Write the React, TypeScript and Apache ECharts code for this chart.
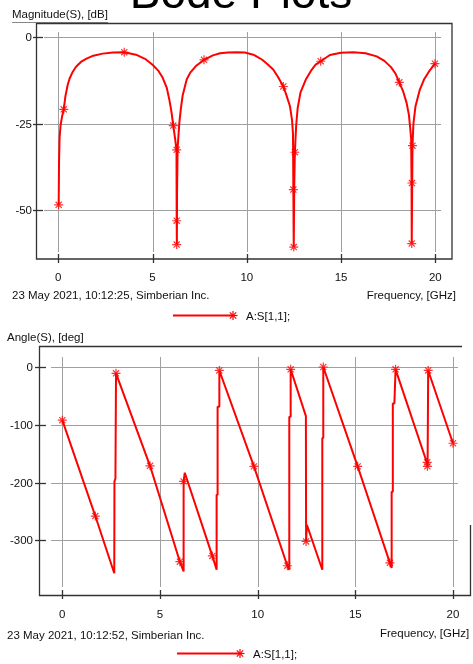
import React, { useEffect, useRef } from "react";
import * as echarts from "echarts";

const TITLE = "Bode Plots";
const MAG_LABEL = "Magnitude(S), [dB]";
const PHASE_LABEL = "Angle(S), [deg]";
const MAG_STAMP = "23 May 2021, 10:12:25, Simberian Inc.";
const PHASE_STAMP = "23 May 2021, 10:12:52, Simberian Inc.";
const X_LABEL = "Frequency, [GHz]";
const SERIES_NAME = "A:S[1,1];";

const FREQ_TICKS = [0, 5, 10, 15, 20];
const MAG_TICKS = [0, -25, -50];
const PHASE_TICKS = [0, -100, -200, -300];

// Magnitude curve (GHz, dB)
const magFreq = [
  0.02, 0.04, 0.07, 0.12, 0.2, 0.29, 0.38, 0.5, 0.6, 0.75, 0.94, 1.2, 1.47, 1.8, 2.35, 2.9, 3.5, 4.12, 4.6, 5.0,
  5.3, 5.54, 5.75, 5.89, 6.0, 6.1, 6.2, 6.27, 6.28, 6.29, 6.3, 6.33, 6.42, 6.5, 6.6, 6.81, 7.0, 7.3, 7.73, 8.2,
  8.58, 9.0, 9.46, 9.9, 10.35, 10.8, 11.1, 11.4, 11.65, 11.94, 12.1, 12.29, 12.4, 12.45, 12.47, 12.49, 12.52, 12.55, 12.62, 12.7,
  12.85, 13.13, 13.4, 13.65, 13.92, 14.41, 15.0, 15.65, 16.3, 16.89, 17.3, 17.65, 17.9, 18.09, 18.3, 18.48, 18.6, 18.66, 18.72, 18.74,
  18.75, 18.77, 18.79, 18.84, 18.95, 19.18, 19.4, 19.7, 19.98,
];
const magDb = [
  -48.5, -36, -29, -25.5, -23, -20.9, -17, -13.8, -12, -10.2, -8.6, -7.2, -6.3, -5.5, -4.8, -4.45, -4.4, -5.1, -6.3, -8.0,
  -9.7, -11.8, -14.6, -18.1, -21.5, -25.6, -29.5, -32.6, -53.1, -60.0, -45, -32, -24.9, -20.8, -16.8, -12.3, -10.3, -8.4, -6.6, -5.3,
  -4.7, -4.45, -4.4, -4.5, -5.1, -6.5, -7.9, -9.4, -11.5, -14.3, -16.8, -20, -24, -28, -44.1, -60.7, -42, -33.3, -25.5, -20.5,
  -16, -12.3, -9.8, -8.0, -7.0, -5.2, -4.55, -4.4, -4.7, -5.6, -6.9, -8.7, -10.7, -13.1, -15.8, -19.1, -22.5, -25.8, -29.5, -42.2,
  -59.7, -45, -31.4, -25, -20, -15.2, -12.3, -9.7, -7.7,
];
const magMarkFreq = [0.02, 0.29, 3.5, 6.1, 6.28, 6.28, 6.28, 7.73, 11.94, 12.55, 12.47, 12.49, 13.92, 18.09, 18.79, 18.76, 18.75, 19.98];
const magMarkDb = [-48.5, -20.9, -4.4, -25.6, -32.6, -53.1, -60.0, -6.6, -14.3, -33.3, -44.1, -60.7, -7.0, -13.1, -31.4, -42.2, -59.7, -7.7];

// Phase curve (GHz, deg)
const phaseFreq = [
  0, 1.69, 2.66, 2.67, 2.72, 2.75, 4.49, 6.02, 6.21, 6.21, 6.27, 7.68, 7.9, 7.9, 7.95, 7.95, 8.04, 8.04, 9.81, 11.52,
  11.62, 11.62, 11.69, 11.69, 12.47, 12.48, 12.52, 13.31, 13.31, 13.36, 13.36, 15.12, 16.77, 16.86, 16.86, 16.92, 16.92, 17.0, 17.06, 18.68,
  18.7, 18.73, 20.0,
];
const phaseDeg = [
  -92, -258, -357, -198, -193, -11, -171, -337, -354, -198, -183, -327, -351, -221, -221, -69, -69, -6, -172, -344,
  -351, -86, -86, -4, -85, -302, -273, -351, -123, -123, 0, -172, -339, -348, -216, -216, -63, -63, -4, -167,
  -172, -6, -132,
];
const phaseMarkFreq = [0, 1.69, 2.75, 4.49, 6.02, 6.21, 7.68, 8.04, 9.81, 11.52, 11.69, 12.48, 13.36, 15.12, 16.77, 17.06, 18.68, 18.69, 18.73, 20.0];
const phaseMarkDeg = [-92, -258, -11, -171, -337, -198, -327, -6, -172, -344, -4, -302, 0, -172, -339, -4, -165, -172, -6, -132];

const zip = (a: number[], b: number[]) => a.map((v, i) => [v, b[i]]);

export default function App() {
  const ref = useRef<HTMLDivElement>(null);
  useEffect(() => {
    const chart = echarts.init(ref.current!, null, { renderer: "svg" });
    const RED = "#ff0000";
    const font = "'Liberation Sans', Arial, sans-serif";
    const TXT = "#111";
    const star = "path://M5 0L5 10M0 5L10 5M1.6 1.6L8.4 8.4M1.6 8.4L8.4 1.6";

    const xAxisBase = (gridIndex: number, min: number, max: number) => ({
      type: "value",
      gridIndex,
      min,
      max,
      axisLine: { show: false },
      axisTick: { show: false },
      splitLine: { show: false },
      axisLabel: { customValues: FREQ_TICKS, margin: 12, fontSize: 11.5, color: TXT, fontFamily: font },
    });
    const yAxisBase = (gridIndex: number, min: number, max: number, ticks: number[], margin: number) => ({
      type: "value",
      gridIndex,
      min,
      max,
      axisLine: { show: false },
      axisTick: { show: false },
      splitLine: { show: false },
      axisLabel: { customValues: ticks, margin, fontSize: 11.5, color: TXT, fontFamily: font },
    });

    const option: any = {
      animation: false,
      grid: [
        { left: 36, top: 23, width: 416, height: 236, show: false },
        { left: 39, top: 346, width: 431, height: 250, show: false },
      ],
      xAxis: [xAxisBase(0, -1.183, 20.886), xAxisBase(1, -1.193, 20.871)],
      yAxis: [yAxisBase(0, -64.16, 4.05, MAG_TICKS, 4), yAxisBase(1, -396.4, 36.35, PHASE_TICKS, 6)],
      series: [
        {
          type: "line",
          name: SERIES_NAME,
          xAxisIndex: 0,
          yAxisIndex: 0,
          data: zip(magFreq, magDb),
          showSymbol: false,
          lineStyle: { color: RED, width: 2 },
          itemStyle: { color: RED },
        },
        {
          type: "scatter",
          xAxisIndex: 0,
          yAxisIndex: 0,
          data: zip(magMarkFreq, magMarkDb),
          symbol: star,
          symbolSize: 9,
          itemStyle: { color: "rgba(0,0,0,0)", borderColor: RED, borderWidth: 1.2 },
        },
        {
          type: "line",
          name: SERIES_NAME,
          xAxisIndex: 1,
          yAxisIndex: 1,
          data: zip(phaseFreq, phaseDeg),
          showSymbol: false,
          lineStyle: { color: RED, width: 2 },
          itemStyle: { color: RED },
        },
        {
          type: "scatter",
          xAxisIndex: 1,
          yAxisIndex: 1,
          data: zip(phaseMarkFreq, phaseMarkDeg),
          symbol: star,
          symbolSize: 9,
          itemStyle: { color: "rgba(0,0,0,0)", borderColor: RED, borderWidth: 1.2 },
        },
      ],
    };
    chart.setOption(option);

    const GRID = "#a0a0a0";
    const DARK = "#333";
    const els: any[] = [];
    const line = (x1: number, y1: number, x2: number, y2: number, stroke: string, w = 1, z = 0) =>
      els.push({ type: "line", z, silent: true, shape: { x1, y1, x2, y2 }, style: { stroke, lineWidth: w } });
    const text = (t: string, x: number, y: number, align = "left", size = 11.5) =>
      els.push({
        type: "text",
        z: 5,
        silent: true,
        style: { text: t, x, y, align, verticalAlign: "middle", fontSize: size, fontFamily: font, fill: TXT },
      });
    const asterisk = (cx: number, cy: number) => {
      const r = 4.5;
      const d = 3.2;
      line(cx - r, cy, cx + r, cy, RED, 1.2, 6);
      line(cx, cy - r, cx, cy + r, RED, 1.2, 6);
      line(cx - d, cy - d, cx + d, cy + d, RED, 1.2, 6);
      line(cx - d, cy + d, cx + d, cy - d, RED, 1.2, 6);
    };

    // Top chart grid lines and ticks
    FREQ_TICKS.forEach((v) => {
      const px = Math.round(chart.convertToPixel({ xAxisIndex: 0 }, v) as number) + 0.5;
      line(px, 32, px, 252, GRID);
      line(px, 254, px, 263, DARK, 1.3);
    });
    MAG_TICKS.forEach((v) => {
      const py = Math.round(chart.convertToPixel({ yAxisIndex: 0 }, v) as number) + 0.5;
      line(44, py, 441, py, GRID);
      line(33, py, 43, py, DARK, 1.3);
    });
    els.push({
      type: "rect",
      z: 1,
      silent: true,
      shape: { x: 36.5, y: 23.5, width: 415.5, height: 235.5 },
      style: { fill: "none", stroke: DARK, lineWidth: 1.3 },
    });
    line(12, 22.5, 108, 22.5, "#888", 1);

    // Bottom chart grid lines and ticks
    FREQ_TICKS.forEach((v) => {
      const px = Math.round(chart.convertToPixel({ xAxisIndex: 1 }, v) as number) + 0.5;
      line(px, 357, px, 587, GRID);
      line(px, 590, px, 599, DARK, 1.3);
    });
    PHASE_TICKS.forEach((v) => {
      const py = Math.round(chart.convertToPixel({ yAxisIndex: 1 }, v) as number) + 0.5;
      line(51, py, 458, py, GRID);
      line(35, py, 46, py, DARK, 1.3);
    });
    els.push({
      type: "polyline",
      z: 1,
      silent: true,
      shape: { points: [[462, 346.5], [39.5, 346.5], [39.5, 595.5], [470.5, 595.5], [470.5, 525]] },
      style: { fill: "none", stroke: DARK, lineWidth: 1.3 },
    });

    // Texts
    els.push({
      type: "text",
      z: 5,
      silent: true,
      style: { text: TITLE, x: 241, y: 15, align: "center", verticalAlign: "bottom", fontSize: 46, fontFamily: font, fill: "#000" },
    });
    text(MAG_LABEL, 12, 13.5);
    text(MAG_STAMP, 12, 295);
    text(X_LABEL, 456, 295, "right");
    text(PHASE_LABEL, 7, 337);
    text(PHASE_STAMP, 7, 635);
    text(X_LABEL, 380, 633);

    // Legends
    line(173, 315.5, 233, 315.5, RED, 2, 6);
    asterisk(233, 315.5);
    text(SERIES_NAME, 246, 315.5);
    line(177, 653.5, 240, 653.5, RED, 2, 6);
    asterisk(240, 653.5);
    text(SERIES_NAME, 253, 653.5);

    chart.setOption({ graphic: { elements: els } });

    return () => chart.dispose();
  }, []);
  return <div ref={ref} style={{ position: "fixed", left: 0, top: 0, width: 473, height: 664 }} />;
}
